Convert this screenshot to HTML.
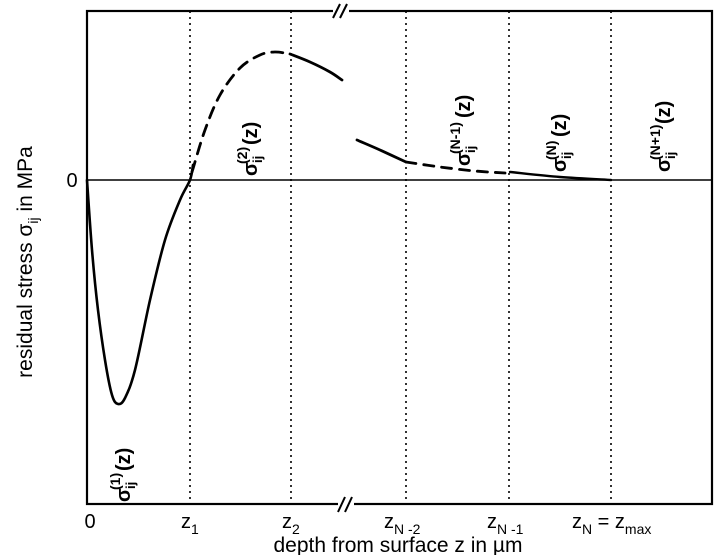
<!DOCTYPE html>
<html><head><meta charset="utf-8"><style>
body{margin:0;background:#fff}
svg{display:block;font-family:"Liberation Sans",Arial,sans-serif}
</style></head><body>
<svg id="chart" width="720" height="555" viewBox="0 0 720 555" xmlns="http://www.w3.org/2000/svg">
<rect x="87" y="11" width="625" height="493" fill="none" stroke="#000" stroke-width="2.2"/>
<g id="grid"></g>
<line x1="87" y1="180" x2="712" y2="180" stroke="#000" stroke-width="1.5"/>
<g id="curves"></g>
<g>
<rect x="333" y="2" width="16" height="16" fill="#fff"/>
<line x1="333" y1="18" x2="340" y2="4" stroke="#000" stroke-width="2"/>
<line x1="340" y1="18" x2="347" y2="4" stroke="#000" stroke-width="2"/>
</g>
<g>
<rect x="338" y="496" width="16" height="16" fill="#fff"/>
<line x1="338" y1="512" x2="345" y2="497" stroke="#000" stroke-width="2"/>
<line x1="345" y1="512" x2="352" y2="497" stroke="#000" stroke-width="2"/>
</g>
<text x="72" y="187" font-size="20" text-anchor="middle">0</text>
<g font-size="20">
<text x="90" y="528" text-anchor="middle">0</text>
<text x="181" y="528">z<tspan font-size="14" dy="6">1</tspan></text>
<text x="282" y="528">z<tspan font-size="14" dy="6">2</tspan></text>
<text x="384" y="528">z<tspan font-size="14" dy="6">N -2</tspan></text>
<text x="487" y="528">z<tspan font-size="14" dy="6">N -1</tspan></text>
<text x="572" y="528">z<tspan font-size="14" dy="6">N</tspan><tspan dy="-6"> = z</tspan><tspan font-size="14" dy="6">max</tspan></text>
</g>
<text x="398" y="552" font-size="21" text-anchor="middle">depth from surface z in µm</text>
<text transform="translate(32,262) rotate(-90)" font-size="21" text-anchor="middle">residual stress  σ<tspan font-size="14" dy="6">ij</tspan><tspan dy="-6"> in MPa</tspan></text>
<g font-size="20" font-weight="bold">
<g transform="translate(130,502) rotate(-90)">
<text x="0" y="0">σ</text><text x="12" y="-10" font-size="14">(1)</text><text x="13" y="5" font-size="13">ij</text><text x="31" y="0">(z)</text></g>
<g transform="translate(257,176) rotate(-90)">
<text x="0" y="0">σ</text><text x="12" y="-10" font-size="14">(2)</text><text x="13" y="5" font-size="13">ij</text><text x="31" y="0">(z)</text></g>
<g transform="translate(470,166) rotate(-90)">
<text x="0" y="0">σ</text><text x="12" y="-10" font-size="14">(N-1)</text><text x="13" y="5" font-size="13">ij</text><text x="48" y="0">(z)</text></g>
<g transform="translate(566,172) rotate(-90)">
<text x="0" y="0">σ</text><text x="12" y="-10" font-size="14">(N)</text><text x="13" y="5" font-size="13">ij</text><text x="35" y="0">(z)</text></g>
<g transform="translate(670,172) rotate(-90)">
<text x="0" y="0">σ</text><text x="12" y="-10" font-size="14">(N+1)</text><text x="13" y="5" font-size="13">ij</text><text x="48" y="0">(z)</text></g>
</g>
</svg>
<script>
const knots=[2.06,4.08,6.38,8.44,10.48];
const seg1X=[0,0.1,0.22,0.36,0.5,0.62,0.76,0.96,1.26,1.56,1.86,2.06,2.12];
const seg1Y=[0,-0.7,-1.3,-1.8,-2.15,-2.24,-2.18,-1.9,-1.2,-0.6,-0.2,0,0.15];
const seg2dX=[2.1,2.36,2.66,3.06,3.46,3.76,4.06];
const seg2dY=[0.08,0.5,0.85,1.12,1.25,1.28,1.26];
const seg2sX=[4.06,4.46,4.86,5.1];
const seg2sY=[1.26,1.18,1.08,1.0];
const seg3sX=[5.4,5.86,6.38];
const seg3sY=[0.4,0.3,0.18];
const seg3dX=[6.38,7.06,7.76,8.36];
const seg3dY=[0.18,0.13,0.09,0.07];
const tailX=[8.46,9.46,10.48];
const tailY=[0.08,0.03,0.0];
const xs=v=>87+v*50, ys=v=>180-v*100;
const NS='http://www.w3.org/2000/svg';
const grid=document.getElementById('grid'), curves=document.getElementById('curves');
knots.forEach(k=>{const l=document.createElementNS(NS,'line');


l.setAttribute('x1',xs(k));l.setAttribute('x2',xs(k));l.setAttribute('y1',11);l.setAttribute('y2',504);
l.setAttribute('stroke','#000');l.setAttribute('stroke-width','1.6');l.setAttribute('stroke-dasharray','2 4');grid.appendChild(l);});
function path(X,Y,dash,w,name){
const P=X.map((x,i)=>[xs(x),ys(Y[i])]);
let d='M'+P[0][0].toFixed(1)+' '+P[0][1].toFixed(1);
for(let i=0;i<P.length-1;i++){const p0=P[Math.max(0,i-1)],p1=P[i],p2=P[i+1],p3=P[Math.min(P.length-1,i+2)];
const c1=[p1[0]+(p2[0]-p0[0])/6,p1[1]+(p2[1]-p0[1])/6],c2=[p2[0]-(p3[0]-p1[0])/6,p2[1]-(p3[1]-p1[1])/6];
d+=' C'+c1.map(v=>v.toFixed(1)).join(' ')+' '+c2.map(v=>v.toFixed(1)).join(' ')+' '+p2.map(v=>v.toFixed(1)).join(' ');}
const p=document.createElementNS(NS,'path');


p.setAttribute('d',d);p.setAttribute('fill','none');p.setAttribute('stroke','#000');
p.setAttribute('stroke-width',w);p.setAttribute('stroke-linecap','round');
if(dash)p.setAttribute('stroke-dasharray',dash);curves.appendChild(p);}
path(seg1X,seg1Y,null,2.6,'curve-sigma-1');
path(seg2dX,seg2dY,'11 8',2.8,'curve-sigma-2-dashed');
path(seg2sX,seg2sY,null,2.8,'curve-sigma-2-solid');
path(seg3sX,seg3sY,null,2.8,'curve-sigma-n-1-solid');
path(seg3dX,seg3dY,'10 8',2.8,'curve-sigma-n-1-dashed');
path(tailX,tailY,null,2.4,'curve-sigma-n');
</script>
</body></html>
